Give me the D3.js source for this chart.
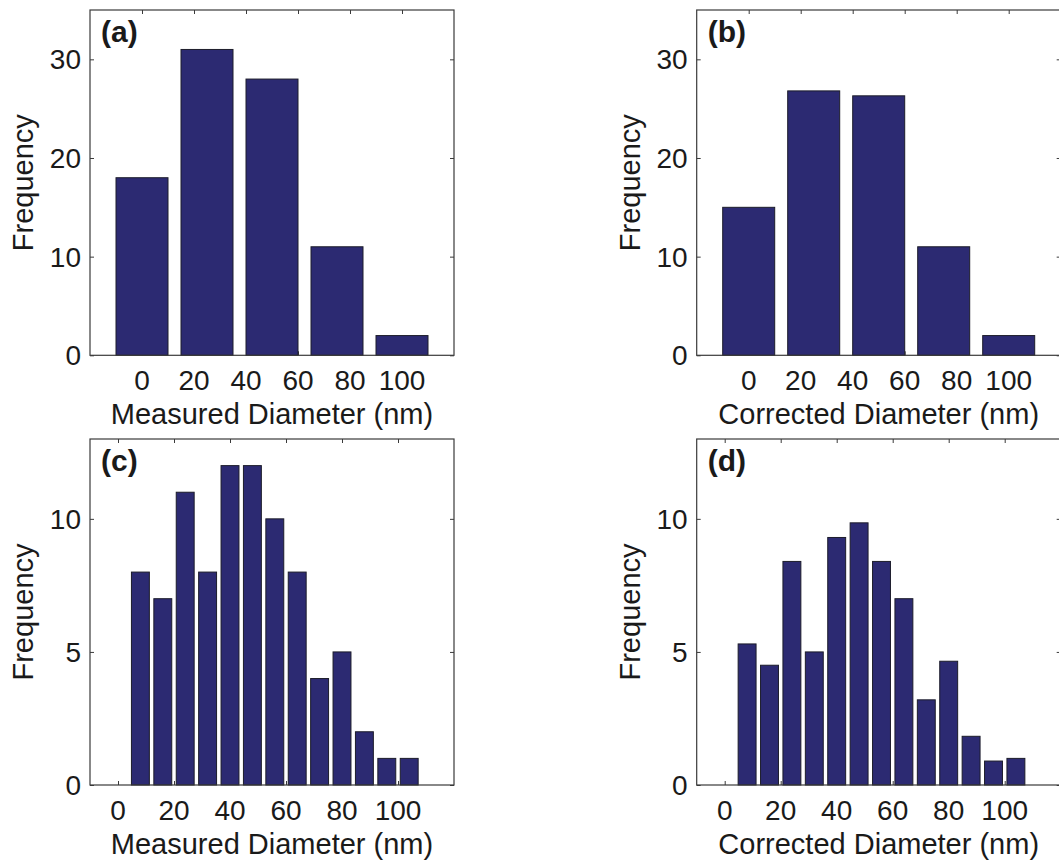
<!DOCTYPE html>
<html>
<head>
<meta charset="utf-8">
<script src="https://cdn.jsdelivr.net/npm/d3@7"></script>
<style>
  html, body { margin: 0; padding: 0; background: #ffffff; }
  svg { display: block; }
  text { font-family: "Liberation Sans", Arial, Helvetica, sans-serif; fill: #1a1a1a; }
</style>
</head>
<body>
<svg id="chart" width="1059" height="861"></svg>
<script>
// ---- data ----
const coarseCenters = [0, 25, 50, 75, 100];
const measuredCoarse = [18, 31, 28, 11, 2];
const correctedCoarse = [15, 26.8, 26.3, 11, 2];

const fineCenters = [8, 16, 24, 32, 40, 48, 56, 64, 72, 80, 88, 96, 104];
const measuredFine = [8, 7, 11, 8, 12, 12, 10, 8, 4, 5, 2, 1, 1];
const correctedFine = [5.3, 4.5, 8.4, 5.0, 9.3, 9.85, 8.4, 7.0, 3.2, 4.65, 1.83, 0.9, 1.0];

const xTicks = [0, 20, 40, 60, 80, 100];
const yTicksCoarse = [0, 10, 20, 30];
const yTicksFine = [0, 5, 10];

const panelLabels = ["(a)", "(b)", "(c)", "(d)"];
const xLabels = ["Measured Diameter (nm)", "Corrected Diameter (nm)", "Measured Diameter (nm)", "Corrected Diameter (nm)"];
const yLabel = "Frequency";

// ---- panel setup ----
const panels = [
  { label: panelLabels[0], xlab: xLabels[0], centers: coarseCenters, values: measuredCoarse, binWidth: 20, xDom: [-20, 120], yDom: [0, 35], yTicks: yTicksCoarse, left: 90, top: 10, w: 364, h: 345.3 },
  { label: panelLabels[1], xlab: xLabels[1], centers: coarseCenters, values: correctedCoarse, binWidth: 20, xDom: [-20, 120], yDom: [0, 35], yTicks: yTicksCoarse, left: 696.7, top: 10, w: 364, h: 345.3 },
  { label: panelLabels[2], xlab: xLabels[2], centers: fineCenters, values: measuredFine, binWidth: 6.4, xDom: [-10, 120], yDom: [0, 13], yTicks: yTicksFine, left: 90, top: 439, w: 364, h: 346 },
  { label: panelLabels[3], xlab: xLabels[3], centers: fineCenters, values: correctedFine, binWidth: 6.4, xDom: [-10, 120], yDom: [0, 13], yTicks: yTicksFine, left: 696.7, top: 439, w: 364, h: 346 }
];

const svg = d3.select("#chart");
const barFill = "#2c2a72";
const axisColor = "#3a3a3a";
const tickLen = 4;

panels.forEach(p => {
  const g = svg.append("g").attr("transform", `translate(${p.left},${p.top})`);
  const x = d3.scaleLinear().domain(p.xDom).range([0, p.w]);
  const y = d3.scaleLinear().domain(p.yDom).range([p.h, 0]);

  // inward ticks on all four sides (drawn beneath bars)
  const bottom = d3.axisBottom(x).tickValues(xTicks).tickSize(-tickLen).tickFormat("");
  const top = d3.axisTop(x).tickValues(xTicks).tickSize(-tickLen).tickFormat("");
  const leftAx = d3.axisLeft(y).tickValues(p.yTicks).tickSize(-tickLen).tickFormat("");
  const rightAx = d3.axisRight(y).tickValues(p.yTicks).tickSize(-tickLen).tickFormat("");

  const gb = g.append("g").attr("transform", `translate(0,${p.h})`).call(bottom);
  const gt = g.append("g").call(top);
  const gl = g.append("g").call(leftAx);
  const gr = g.append("g").attr("transform", `translate(${p.w},0)`).call(rightAx);
  [gb, gt, gl, gr].forEach(a => {
    a.select(".domain").remove();
    a.selectAll(".tick line").attr("stroke", axisColor).attr("stroke-width", 1);
  });

  // bars
  g.selectAll("rect.bar")
    .data(p.centers.map((c, i) => ({ c, v: p.values[i] })))
    .join("rect")
    .attr("class", "bar")
    .attr("x", d => x(d.c - p.binWidth / 2))
    .attr("width", d => x(d.c + p.binWidth / 2) - x(d.c - p.binWidth / 2))
    .attr("y", d => y(d.v))
    .attr("height", d => y(0) - y(d.v))
    .attr("fill", barFill)
    .attr("stroke", "#1c1c2a")
    .attr("stroke-width", 1);

  // box
  g.append("rect")
    .attr("x", 0).attr("y", 0).attr("width", p.w).attr("height", p.h)
    .attr("fill", "none").attr("stroke", axisColor).attr("stroke-width", 1.2);

  // tick labels
  g.append("g").selectAll("text")
    .data(xTicks)
    .join("text")
    .attr("x", d => x(d))
    .attr("y", p.h + 35)
    .attr("text-anchor", "middle")
    .style("font-size", "28px")
    .text(d => d);

  g.append("g").selectAll("text")
    .data(p.yTicks)
    .join("text")
    .attr("x", -9)
    .attr("y", d => y(d) + 10)
    .attr("text-anchor", "end")
    .style("font-size", "28px")
    .text(d => d);

  // axis labels
  g.append("text")
    .attr("x", p.w / 2)
    .attr("y", p.h + 69)
    .attr("text-anchor", "middle")
    .style("font-size", "29px")
    .text(p.xlab);

  g.append("text")
    .attr("transform", `translate(-57,${p.h / 2}) rotate(-90)`)
    .attr("text-anchor", "middle")
    .style("font-size", "29px")
    .text(yLabel);

  // panel label
  g.append("text")
    .attr("x", 11)
    .attr("y", 32)
    .style("font-size", "30px")
    .style("font-weight", "bold")
    .text(p.label);
});
</script>
</body>
</html>
